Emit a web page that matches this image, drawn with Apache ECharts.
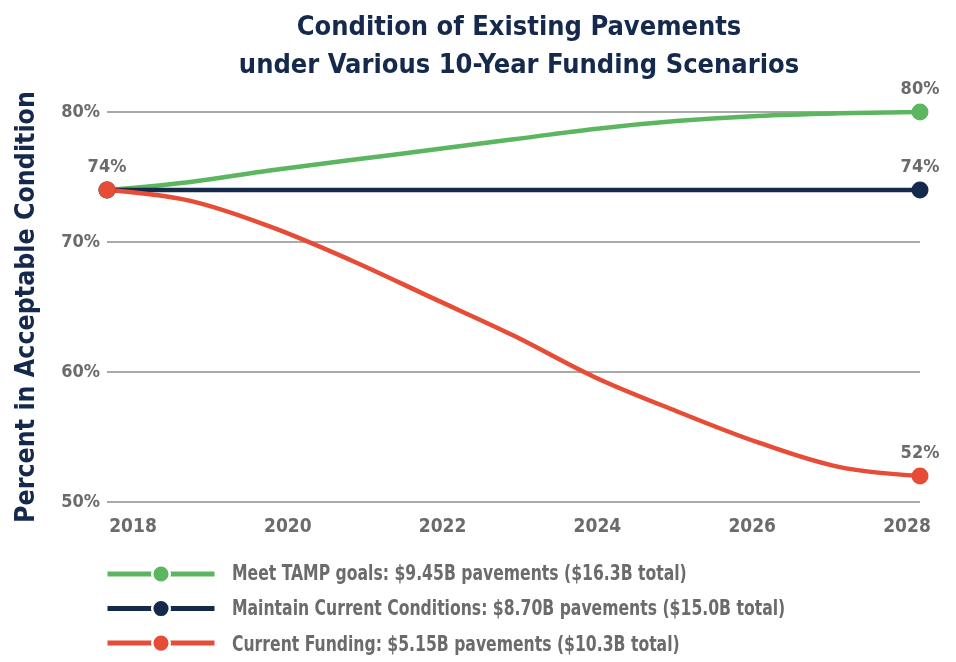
<!DOCTYPE html>
<html>
<head>
<meta charset="utf-8">
<script src="https://cdn.jsdelivr.net/npm/echarts@6/dist/echarts.min.js"></script>
<style>
  html, body { margin: 0; padding: 0; background: #ffffff; }
  #chart { width: 956px; height: 662px; }
</style>
</head>
<body>
<div id="chart"></div>
<script>
// Pavement condition projections, percent in acceptable condition by year
const years = [2018, 2019, 2020, 2021, 2022, 2023, 2024, 2025, 2026, 2027, 2028];
const tampGoals = [74, 74.6, 75.5, 76.3, 77.1, 77.9, 78.7, 79.3, 79.7, 79.9, 80];
const maintainCurrent = [74, 74, 74, 74, 74, 74, 74, 74, 74, 74, 74];
const currentFunding = [74, 73.2, 71.2, 68.6, 65.7, 62.8, 59.6, 57.0, 54.6, 52.7, 52];
const yearTicks = [2018, 2020, 2022, 2024, 2026, 2028];
const seriesNames = [
  'Meet TAMP goals: $9.45B pavements ($16.3B total)',
  'Maintain Current Conditions: $8.70B pavements ($15.0B total)',
  'Current Funding: $5.15B pavements ($10.3B total)'
];
const seriesColors = ['#5cb660', '#14294c', '#e64c36'];

const NARROW = "'Liberation Sans Narrow', 'DejaVu Sans Condensed', 'Arial Narrow', sans-serif";
const GREY = '#6b6b6b';
const NAVY = '#14294c';

// layout of the legend rows
const LEGEND_TOP = 563;
const LEGEND_ITEM_H = 22;
const LEGEND_GAP = 13.5;

// markers and value labels only at the labelled points
function buildData(values, labelled) {
  const last = values.length - 1;
  return values.map((v, i) => {
    const isEnd = i === 0 || i === last;
    return {
      value: [years[i], v],
      symbolSize: isEnd ? 17 : 0,
      label: { show: labelled.includes(i) }
    };
  });
}

const valueLabel = {
  position: 'top',
  distance: 5,
  formatter: p => Math.round(p.value[1]) + '%',
  color: GREY,
  fontFamily: NARROW,
  fontWeight: 'bold',
  fontSize: 18
};

function lineSeries(name, values, color, labelled) {
  return {
    name,
    type: 'line',
    smooth: 0.35,
    symbol: 'circle',
    showSymbol: true,
    showAllSymbol: true,
    data: buildData(values, labelled),
    lineStyle: { width: 4.5, color },
    itemStyle: { color },
    label: valueLabel,
    emphasis: { disabled: true },
    z: 3
  };
}

// condensed legend captions beside the legend icons
const legendTexts = seriesNames.map((name, i) => ({
  type: 'text',
  x: 232,
  y: LEGEND_TOP + LEGEND_ITEM_H / 2 + i * (LEGEND_ITEM_H + LEGEND_GAP),
  scaleX: 0.79,
  style: {
    text: name,
    fill: GREY,
    fontFamily: NARROW,
    fontWeight: 'bold',
    fontSize: 22,
    textAlign: 'left',
    textVerticalAlign: 'middle'
  }
}));

const chart = echarts.init(document.getElementById('chart'), null, { renderer: 'canvas' });

chart.setOption({
  backgroundColor: '#ffffff',
  animation: false,
  title: {
    text: 'Condition of Existing Pavements\nunder Various 10-Year Funding Scenarios',
    left: 514,
    textAlign: 'center',
    top: 4,
    textStyle: {
      fontFamily: NARROW,
      fontWeight: 'bold',
      fontSize: 27,
      lineHeight: 38,
      color: NAVY
    }
  },
  grid: { left: 107, right: 36, top: 112, bottom: 160, containLabel: false },
  xAxis: [
    {
      // data axis
      type: 'value',
      min: 2018,
      max: 2028,
      axisLine: { show: false },
      axisTick: { show: false },
      axisLabel: { show: false },
      splitLine: { show: false }
    },
    {
      // year labels
      type: 'value',
      min: 2017.664,
      max: 2028.168,
      position: 'bottom',
      axisLine: { show: false },
      axisTick: { show: false },
      splitLine: { show: false },
      axisLabel: {
        customValues: yearTicks,
        formatter: v => String(v),
        margin: 16,
        color: GREY,
        fontFamily: NARROW,
        fontWeight: 'bold',
        fontSize: 19
      }
    }
  ],
  yAxis: {
    type: 'value',
    min: 50,
    max: 80,
    interval: 10,
    name: 'Percent in Acceptable Condition',
    nameLocation: 'middle',
    nameRotate: 90,
    nameGap: 66,
    nameTextStyle: {
      color: NAVY,
      fontFamily: NARROW,
      fontWeight: 'bold',
      fontSize: 26.5
    },
    axisLine: { show: false },
    axisTick: { show: false },
    axisLabel: {
      formatter: v => v + '%',
      margin: 7,
      color: GREY,
      fontFamily: NARROW,
      fontWeight: 'bold',
      fontSize: 18
    },
    splitLine: { show: true, lineStyle: { color: '#8c8c8c', width: 1.5 } }
  },
  legend: {
    orient: 'vertical',
    left: 100,
    top: LEGEND_TOP - 5,
    height: 130,
    itemWidth: 107,
    itemHeight: LEGEND_ITEM_H,
    itemGap: LEGEND_GAP,
    selectedMode: false,
    data: seriesNames,
    formatter: () => '',
    lineStyle: { width: 5 },
    itemStyle: { borderColor: '#ffffff', borderWidth: 2.5 },
    textStyle: { fontSize: 1 }
  },
  graphic: legendTexts,
  series: [
    lineSeries(seriesNames[0], tampGoals, seriesColors[0], [10]),
    lineSeries(seriesNames[1], maintainCurrent, seriesColors[1], [10]),
    lineSeries(seriesNames[2], currentFunding, seriesColors[2], [0, 10])
  ]
});
</script>
</body>
</html>
